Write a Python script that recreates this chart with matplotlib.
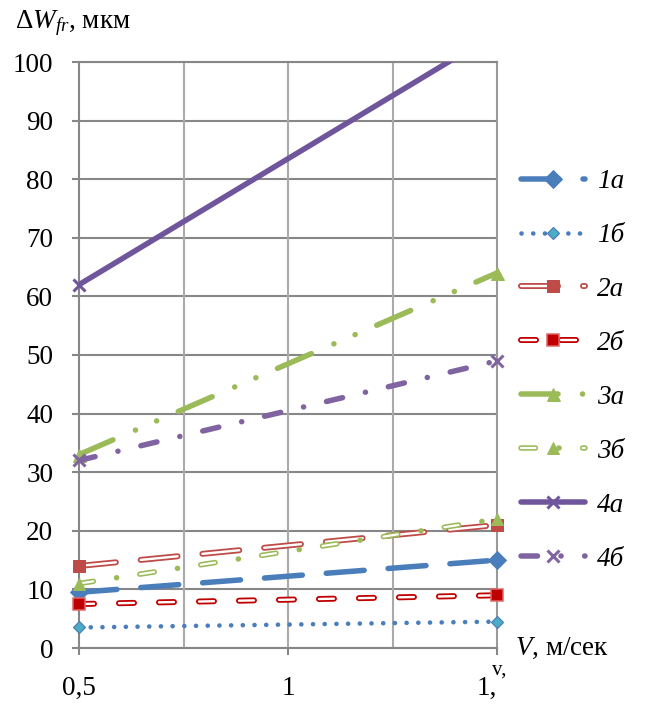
import matplotlib
matplotlib.use('Agg')
import numpy as np
import matplotlib.pyplot as plt
from matplotlib.lines import Line2D
from matplotlib.legend_handler import HandlerTuple

plt.rcParams['font.family'] = ['Liberation Serif', 'DejaVu Serif']
plt.rcParams['mathtext.fontset'] = 'custom'
plt.rcParams['mathtext.rm'] = 'Liberation Serif'
plt.rcParams['mathtext.it'] = 'Liberation Serif:italic'
plt.rcParams['lines.scale_dashes'] = False

# ---------------- data ----------------
speed = [0.5, 1.5]
labels = ['1а', '1б', '2а', '2б', '3а', '3б', '4а', '4б']
w_1a = [9.5, 15.0]
w_1b = [3.5, 4.5]
w_2a = [14.0, 21.0]
w_2b = [7.5, 9.0]
w_3a = [33.0, 64.0]
w_3b = [11.0, 22.0]
w_4a = [62.0, 105.0]
w_4b = [32.0, 49.0]
series = [w_1a, w_1b, w_2a, w_2b, w_3a, w_3b, w_4a, w_4b]
yticks = list(range(0, 101, 10))
xticks = [0.5, 1.0, 1.5]
xticklabels = ['0,5', '1', '1,']
xgrid = [0.75, 1.0, 1.25]

# ---------------- styles (px) ----------------
PX = 0.72
def pts(seq):
    return [v * PX for v in seq]

styles = [
    dict(color='#4A7EBB', lw=5.5, dash=[38, 24], inner=None,
         marker='D', ms=18 / 1.414, mfc='#4A7EBB', mec='#4A7EBB', mew=1),
    dict(color='#4A7EBB', lw=4.6, dash=[0.1, 11.6], inner=None,
         marker='D', ms=12 / 1.414, mfc='#4BACC6', mec='#4A7EBB', mew=1.2),
    dict(color='#BE4B48', lw=6, dash=[37, 25], inner=(2.4, [37, 25]),
         marker='s', ms=12, mfc='#BE4B48', mec='#BE4B48', mew=1),
    dict(color='#C00000', lw=6, dash=[15, 25], inner=(2.4, [15, 25]),
         marker='s', ms=12, mfc='#C00000', mec='#E06666', mew=1.5),
    dict(color='#9BBB59', lw=5.5, dash=[37, 24.5, 0.1, 23, 0.1, 23.5], inner=None,
         marker='^', ms=13, mfc='#9BBB59', mec='#9BBB59', mew=1),
    dict(color='#9BBB59', lw=5.5, dash=[14.5, 23.5, 0.1, 23.5], inner=(2.2, [14.5, 47.1]),
         marker='^', ms=12, mfc='#9BBB59', mec='#9BBB59', mew=1),
    dict(color='#6F559B', lw=5.5, dash=None, inner=None,
         marker='x', ms=12, mfc='#6F559B', mec='#6F559B', mew=3),
    dict(color='#8064A2', lw=5.5, dash=[16.5, 23.5, 0.1, 23.5], inner=None,
         marker='x', ms=12, mfc='#8064A2', mec='#8064A2', mew=3),
]

FS = 19.5
fig = plt.figure(figsize=(6.45, 7.06), dpi=100)
ax = fig.add_axes([79 / 645, 58 / 706, (497 - 79) / 645, (648 - 62) / 706])
ax.set_xlim(0.5, 1.5)
ax.set_ylim(0, 100)

ymax = 100
handles = []
for i, (vals, st) in enumerate(zip(series, styles)):
    z = 3 + i
    kw = dict(color=st['color'], lw=st['lw'] * PX, solid_capstyle='round',
              dash_capstyle='round', zorder=z)
    if st['dash'] is None:
        l1, = ax.plot(speed, vals, linestyle='-', **kw)
    else:
        l1, = ax.plot(speed, vals, linestyle=(0, tuple(pts(st['dash']))), **kw)
    group = [l1]
    if st['inner'] is not None:
        ilw, ipat = st['inner']
        l2, = ax.plot(speed, vals, color='white', lw=ilw * PX,
                      linestyle=(0, tuple(pts(ipat))), dash_capstyle='round',
                      zorder=z + 0.1)
        group.append(l2)
    mvals = [v if v <= ymax else np.nan for v in vals]
    l3, = ax.plot(speed, mvals, linestyle='none', marker=st['marker'],
                  ms=st['ms'] * PX, mfc=st['mfc'], mec=st['mec'],
                  mew=st['mew'] * PX, clip_on=False, zorder=z + 0.2)
    group.append(l3)
    handles.append(tuple(group))

# grid & axes
hgrid = '#878787'
ax.set_yticks(yticks)
ax.set_xticks(xticks)
ax.set_xticklabels(xticklabels)
ax.set_xticks(xgrid, minor=True)
ax.grid(False)
for yv in yticks:
    ax.axhline(yv, color=hgrid, lw=1.5, zorder=1)
for xv in xgrid:
    ax.axvline(xv, color='#AAAAAA', lw=1.5, zorder=1)
for s in ['left', 'bottom', 'top']:
    ax.spines[s].set_color(hgrid)
    ax.spines[s].set_linewidth(1.5)
ax.spines['right'].set_color('#9A9A9A')
ax.spines['right'].set_linewidth(1.5)
ax.tick_params(axis='y', which='major', direction='out', length=5, width=1.5,
               color=hgrid, labelsize=FS, pad=13.5)
ax.tick_params(axis='x', which='major', direction='out', length=5, width=1.5,
               color=hgrid, labelsize=FS, pad=15)
ax.tick_params(axis='x', which='minor', length=0)
ax.get_xticklabels()[-1].set_horizontalalignment('right')
for lab in ax.get_xticklabels() + ax.get_yticklabels():
    lab.set_fontsize(FS)

# texts
fig.text(15 / 645, 1 - 28 / 706, r'$\Delta W_{fr}$, мкм', fontsize=FS, va='baseline', ha='left')
fig.text(515 / 645, 1 - 655 / 706, r'$V$, м/сек', fontsize=FS, va='baseline', ha='left')
fig.text(499 / 645, 1 - 675 / 706, 'v,', fontsize=15, va='baseline', ha='center')

leg = fig.legend(handles, labels, handler_map={tuple: HandlerTuple(ndivide=1)},
                 loc='upper left', bbox_to_anchor=(521 / 645, 1 - 169 / 706),
                 frameon=False, fontsize=FS, numpoints=1, handlelength=2.37,
                 handletextpad=0.44, labelspacing=1.07, borderpad=0, borderaxespad=0,
                 prop={'style': 'italic', 'size': FS})

fig.savefig('out.png', dpi=100)
